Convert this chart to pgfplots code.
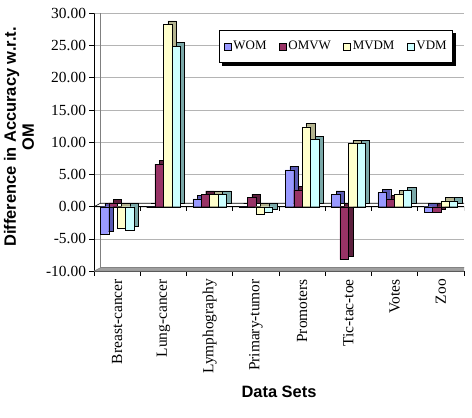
\documentclass[border=0pt]{standalone}
\usepackage{pgfplots}
\usepackage{pgfplotstable}
\pgfplotsset{compat=1.18}
\usepackage{fontspec}
\setmainfont{Liberation Serif}
\setsansfont{Liberation Sans}

\definecolor{womF}{HTML}{9999FF}
\definecolor{womS}{HTML}{5A5AB4}
\definecolor{omvwF}{HTML}{993366}
\definecolor{omvwS}{HTML}{5C1F3D}
\definecolor{mvdmF}{HTML}{FFFFCC}
\definecolor{mvdmS}{HTML}{B3B38F}
\definecolor{vdmF}{HTML}{CCFFFF}
\definecolor{vdmS}{HTML}{7AA8A8}
\definecolor{wallgray}{HTML}{808080}
\definecolor{gridgray}{HTML}{B4B4B4}
\definecolor{floorgray}{HTML}{A0A0A0}

% difference in accuracy w.r.t. OM, per data set
\pgfplotstableread{
x   WOM   OMVW   MVDM   VDM
0  -4.3    0.6   -3.3   -3.6
1   0.0    6.6   28.3   24.9
2   1.2    1.9    1.9    1.9
3   0.0    1.4   -1.2   -0.9
4   5.7    2.6   12.4   10.4
5   1.9   -8.2    9.8    9.8
6   2.2    1.2    2.0    2.5
7  -0.9   -0.9    0.9    0.9
}\datatable

\begin{document}
\begin{tikzpicture}
\path[use as bounding box] (0,0) rectangle (472bp,418bp);
\begin{axis}[
  at={(94bp,146.8bp)}, anchor=south west,
  scale only axis, width=370bp, height=257.9bp,
  xmin=-0.5, xmax=7.5, ymin=-10, ymax=30,
  axis x line*=bottom, axis y line*=left,
  axis line style={-, black, line width=0.8bp},
  tick align=outside,
  major tick length=4.5bp,
  tick style={black, line width=0.8bp},
  ymajorgrids,
  major grid style={gridgray, line width=0.8bp},
  ytick={-10,-5,...,30},
  yticklabel style={font=\fontsize{15.5}{18}\selectfont,
    /pgf/number format/fixed, /pgf/number format/fixed zerofill,
    /pgf/number format/precision=2, /pgf/number format/assume math mode=true},
  xtick={-0.5,0.5,...,7.5},
  x tick label as interval,
  xticklabels={Breast-cancer,Lung-cancer,Lymphography,Primary-tumor,Promoters,Tic-tac-toe,Votes,Zoo},
  xticklabel style={rotate=90, anchor=east, font=\fontsize{15.5}{18}\selectfont},
  ybar, bar width=8.4bp,
  legend columns=4,
  legend style={at={(0.9703,0.9353)}, anchor=north east, draw=black, fill=white,
    line width=0.8bp, font=\fontsize{13}{15}\selectfont, name=leg,
    /tikz/every even column/.append style={column sep=10bp},
    inner xsep=4bp, inner ysep=9bp},
  legend image code/.code={\draw[#1, draw=black, line width=0.4bp] (0bp,-3.5bp) rectangle (7.5bp,3.5bp);},
]
% back wall (offset 6.5bp right, 3.5bp up)
\draw[wallgray, line width=0.8bp]
  ([shift={(6.5bp,3.5bp)}]axis cs:-0.5,-10) rectangle ([shift={(6.5bp,3.5bp)}]axis cs:7.5,30);
% floor
\filldraw[draw=wallgray, fill=floorgray, line width=0.6bp]
  (axis cs:-0.5,-10) -- (axis cs:7.5,-10) -- ([shift={(6.5bp,3.5bp)}]axis cs:7.5,-10)
  -- ([shift={(6.5bp,3.5bp)}]axis cs:-0.5,-10) -- cycle;
\draw[wallgray, line width=0.8bp] (axis cs:-0.5,30) -- ([shift={(6.5bp,3.5bp)}]axis cs:-0.5,30);
% zero plane
\filldraw[draw=black, fill=white, line width=0.6bp]
  (axis cs:-0.5,0) -- (axis cs:7.5,0) -- ([shift={(6.5bp,3.5bp)}]axis cs:7.5,0)
  -- ([shift={(6.5bp,3.5bp)}]axis cs:-0.5,0) -- cycle;
\draw[black, line width=0.8bp] (axis cs:-0.5,0) -- (axis cs:7.5,0);
% category ticks on the zero line
\draw[black, line width=0.8bp] (axis cs:-0.5,0) -- ([yshift=-4bp]axis cs:-0.5,0);
\draw[black, line width=0.8bp] (axis cs:0.5,0) -- ([yshift=-4bp]axis cs:0.5,0);
\draw[black, line width=0.8bp] (axis cs:1.5,0) -- ([yshift=-4bp]axis cs:1.5,0);
\draw[black, line width=0.8bp] (axis cs:2.5,0) -- ([yshift=-4bp]axis cs:2.5,0);
\draw[black, line width=0.8bp] (axis cs:3.5,0) -- ([yshift=-4bp]axis cs:3.5,0);
\draw[black, line width=0.8bp] (axis cs:4.5,0) -- ([yshift=-4bp]axis cs:4.5,0);
\draw[black, line width=0.8bp] (axis cs:5.5,0) -- ([yshift=-4bp]axis cs:5.5,0);
\draw[black, line width=0.8bp] (axis cs:6.5,0) -- ([yshift=-4bp]axis cs:6.5,0);
\draw[black, line width=0.8bp] (axis cs:7.5,0) -- ([yshift=-4bp]axis cs:7.5,0);

% WOM
\addplot[bar shift=-12.6bp, fill=womS, draw=black, line width=0.4bp, xshift=4.5bp, yshift=3.5bp, forget plot]
  table[x=x, y=WOM]{\datatable};
\addplot[bar shift=-12.6bp, fill=womF, draw=black, line width=0.4bp]
  table[x=x, y=WOM]{\datatable};
% OMVW
\addplot[bar shift=-4.2bp, fill=omvwS, draw=black, line width=0.4bp, xshift=4.5bp, yshift=3.5bp, forget plot]
  table[x=x, y=OMVW]{\datatable};
\addplot[bar shift=-4.2bp, fill=omvwF, draw=black, line width=0.4bp]
  table[x=x, y=OMVW]{\datatable};
% MVDM
\addplot[bar shift=4.2bp, fill=mvdmS, draw=black, line width=0.4bp, xshift=4.5bp, yshift=3.5bp, forget plot]
  table[x=x, y=MVDM]{\datatable};
\addplot[bar shift=4.2bp, fill=mvdmF, draw=black, line width=0.4bp]
  table[x=x, y=MVDM]{\datatable};
% VDM
\addplot[bar shift=12.6bp, fill=vdmS, draw=black, line width=0.4bp, xshift=4.5bp, yshift=3.5bp, forget plot]
  table[x=x, y=VDM]{\datatable};
\addplot[bar shift=12.6bp, fill=vdmF, draw=black, line width=0.4bp]
  table[x=x, y=VDM]{\datatable};

\legend{WOM,OMVW,MVDM,VDM}
\end{axis}

% legend drop shadow (right and bottom strips)
\fill[black] ([xshift=3bp,yshift=-3bp]leg.south west) rectangle ([xshift=3bp]leg.south east);
\fill[black] ([yshift=-3bp]leg.north east) rectangle ([xshift=3bp,yshift=-3bp]leg.south east);

\node[rotate=90, align=center, font=\sffamily\bfseries\fontsize{16.5}{18}\selectfont]
  at (19bp,281bp) {Difference in Accuracy w.r.t.\\OM};
\node[font=\sffamily\bfseries\fontsize{16.5}{18}\selectfont] at (279bp,26.3bp) {Data Sets};
\end{tikzpicture}
\end{document}
